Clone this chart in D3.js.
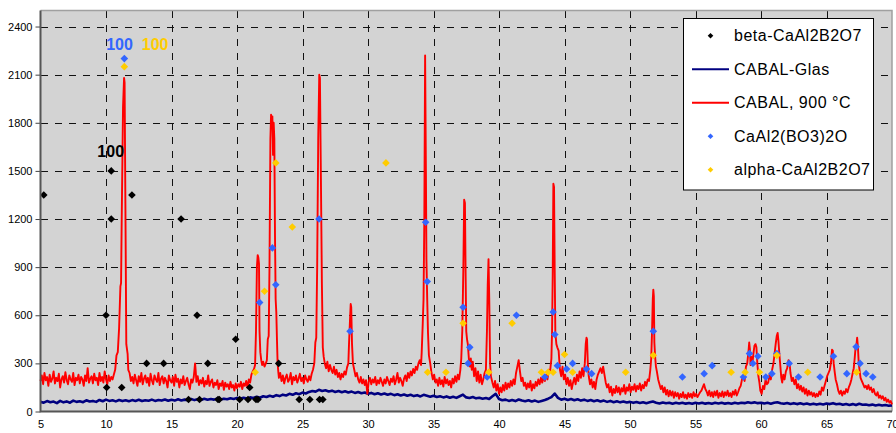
<!DOCTYPE html>
<html><head><meta charset="utf-8">
<script src="https://cdn.jsdelivr.net/npm/d3@7"></script>
<style>body{margin:0;background:#fff}svg{display:block;font-family:"Liberation Sans",Arial,sans-serif}</style>
</head><body><svg id="c" width="896" height="433"></svg>
<script>
const xTicks=[5,10,15,20,25,30,35,40,45,50,55,60,65,70];
const yTicks=[0,300,600,900,1200,1500,1800,2100,2400];

const seriesNames=["beta-CaAl2B2O7","CABAL-Glas","CABAL, 900 °C","CaAl2(BO3)2O","alpha-CaAl2B2O7"];

const betaPhase=[[5.25,1350],[10.0,600],[10.05,150],[10.4,1200],[10.4,1500],[11.2,150],[11.98,1350],[13.1,300],[14.4,300],[15.73,1200],[16.3,75],[16.95,600],[17.14,75],[17.77,300],[18.55,75],[18.65,75],[19.9,450],[20.2,75],[20.84,75],[20.97,150],[21.45,75],[21.6,75],[23.18,300],[24.75,75],[25.56,75],[26.3,75],[26.55,75]];

const caAlBoratePhase=[[11.4,2200],[21.73,680],[22.7,1020],[22.96,790],[26.26,1200],[28.63,500],[34.4,1180],[34.52,810],[37.26,650],[37.64,300],[37.77,400],[39.1,215],[41.33,600],[43.49,215],[44.13,620],[44.26,480],[44.46,286],[45.16,265],[45.62,300],[46.68,265],[47.07,236],[51.78,500],[54.0,215],[55.66,236],[56.27,286],[58.66,215],[59.12,361],[59.38,300],[59.76,344],[60.37,215],[60.83,236],[61.21,361],[62.15,300],[62.86,215],[64.51,215],[65.53,344],[66.55,236],[67.26,403],[67.56,300],[68.02,236],[68.53,215]];

const alphaPhase=[[11.4,2150],[21.39,245],[22.1,750],[22.96,1550],[24.22,1150],[31.37,1550],[34.55,245],[35.95,245],[37.26,550],[39.22,245],[41.0,550],[43.24,245],[43.75,245],[44.13,245],[45.0,355],[45.62,245],[49.67,245],[51.78,350],[57.72,245],[58.79,245],[59.88,245],[61.21,350],[63.57,245],[67.3,245]];

const peakLabels=[{text:"100",at:[11.03,2255],color:"#3366FF"},{text:"100",at:[13.75,2255],color:"#FFCC00"},{text:"100",at:[10.36,1585],color:"#000000"}];

const cabalGlas=[[5.0,60],[5.25,55],[5.5,65],[5.75,58],[6.0,62],[6.25,52],[6.5,66],[6.75,57],[7.0,63],[7.25,55],[7.5,68],[7.75,60],[8.0,64],[8.25,58],[8.5,70],[8.75,62],[9.0,66],[9.25,60],[9.5,72],[9.75,64],[10.0,74],[10.25,66],[10.5,70],[10.75,63],[11.0,72],[11.25,65],[11.5,70],[11.75,64],[12.0,71],[12.25,66],[12.5,73],[12.75,65],[13.0,70],[13.25,67],[13.5,74],[13.75,66],[14.0,72],[14.25,68],[14.5,75],[14.75,67],[15.0,73],[15.25,68],[15.5,76],[15.75,69],[16.0,74],[16.25,70],[16.5,78],[16.75,71],[17.0,76],[17.25,72],[17.5,79],[17.75,73],[18.0,78],[18.25,74],[18.5,81],[18.75,75],[19.0,80],[19.25,76],[19.5,83],[19.75,78],[20.0,85],[20.25,79],[20.5,86],[20.75,81],[21.0,88],[21.25,84],[21.5,92],[21.75,86],[22.0,95],[22.25,90],[22.5,98],[22.75,92],[23.0,102],[23.25,96],[23.5,105],[23.75,100],[24.0,110],[24.25,104],[24.5,114],[24.75,108],[25.0,118],[25.25,112],[25.5,122],[25.75,128],[26.0,124],[26.25,135],[26.5,128],[26.75,132],[27.0,125],[27.25,130],[27.5,122],[27.75,128],[28.0,120],[28.25,126],[28.5,118],[28.75,124],[29.0,116],[29.25,122],[29.5,114],[29.75,118],[30.0,110],[30.25,116],[30.5,108],[30.75,114],[31.0,106],[31.25,112],[31.5,104],[31.75,110],[32.0,102],[32.25,108],[32.5,100],[32.75,106],[33.0,98],[33.25,104],[33.5,96],[33.75,102],[34.0,94],[34.25,104],[34.5,98],[34.75,92],[35.0,98],[35.25,90],[35.5,95],[35.75,88],[36.0,94],[36.25,86],[36.5,92],[36.75,85],[37.0,95],[37.25,105],[37.5,88],[37.75,84],[38.0,90],[38.25,82],[38.5,86],[38.75,80],[39.0,84],[39.25,78],[39.5,95],[39.75,110],[40.0,78],[40.25,70],[40.5,74],[40.75,66],[41.0,72],[41.25,65],[41.5,75],[41.75,68],[42.0,64],[42.25,70],[42.5,62],[42.75,68],[43.0,60],[43.25,66],[43.5,72],[43.75,80],[44.0,90],[44.25,112],[44.5,85],[44.75,74],[45.0,80],[45.25,72],[45.5,78],[45.75,70],[46.0,76],[46.25,68],[46.5,74],[46.75,66],[47.0,72],[47.25,64],[47.5,70],[47.75,62],[48.0,68],[48.25,60],[48.5,66],[48.75,58],[49.0,64],[49.25,57],[49.5,62],[49.75,56],[50.0,60],[50.25,54],[50.5,59],[50.75,53],[51.0,58],[51.25,52],[51.5,57],[51.75,62],[52.0,55],[52.25,50],[52.5,56],[52.75,51],[53.0,55],[53.25,49],[53.5,54],[53.75,50],[54.0,55],[54.25,49],[54.5,53],[54.75,48],[55.0,54],[55.25,50],[55.5,55],[55.75,49],[56.0,53],[56.25,48],[56.5,54],[56.75,50],[57.0,55],[57.25,49],[57.5,53],[57.75,48],[58.0,54],[58.25,50],[58.5,55],[58.75,52],[59.0,58],[59.25,53],[59.5,57],[59.75,52],[60.0,55],[60.25,50],[60.5,54],[60.75,49],[61.0,55],[61.25,58],[61.5,52],[61.75,48],[62.0,53],[62.25,47],[62.5,52],[62.75,46],[63.0,51],[63.25,45],[63.5,50],[63.75,44],[64.0,49],[64.25,43],[64.5,48],[64.75,44],[65.0,50],[65.25,46],[65.5,52],[65.75,45],[66.0,48],[66.25,42],[66.5,47],[66.75,41],[67.0,46],[67.25,40],[67.5,48],[67.75,42],[68.0,44],[68.25,39],[68.5,43],[68.75,38],[69.0,42],[69.25,37],[69.5,40],[69.75,36],[70.0,38]];

const cabal900=[[5.0,190],[5.1,225],[5.2,170],[5.3,240],[5.4,195],[5.5,215],[5.6,160],[5.7,230],[5.8,185],[5.9,205],[6.0,250],[6.1,175],[6.2,210],[6.3,190],[6.4,235],[6.5,150],[6.6,200],[6.7,220],[6.8,180],[6.9,245],[7.0,195],[7.1,170],[7.2,225],[7.3,200],[7.4,185],[7.5,240],[7.6,165],[7.7,210],[7.8,195],[7.9,230],[8.0,175],[8.1,215],[8.2,200],[8.3,160],[8.4,225],[8.5,190],[8.6,270],[8.7,180],[8.8,205],[8.9,220],[9.0,175],[9.1,235],[9.2,195],[9.3,210],[9.4,165],[9.5,240],[9.6,190],[9.7,215],[9.8,180],[9.9,250],[10.0,200],[10.1,170],[10.2,225],[10.3,190],[10.4,215],[10.5,200],[10.6,230],
[10.7,260],[10.8,350],[10.9,370],[11.0,520],[11.1,780],[11.15,800],[11.2,1200],[11.3,1900],[11.38,2080],[11.42,2050],[11.48,1300],[11.55,420],[11.65,360],[11.7,260],[11.8,240],
[11.9,190],[12.0,215],[12.1,175],[12.2,230],[12.3,195],[12.4,160],[12.5,220],[12.6,185],[12.7,240],[12.8,170],[12.9,205],[13.0,225],[13.1,180],[13.2,210],[13.3,160],[13.4,235],[13.5,195],[13.6,170],[13.7,225],[13.8,200],[13.9,185],[14.0,240],[14.1,165],[14.2,205],[14.3,220],[14.4,175],[14.5,210],[14.6,190],[14.7,150],[14.8,225],[14.9,195],[15.0,180],[15.1,215],[15.2,160],[15.3,230],[15.4,185],[15.5,205],[15.6,150],[15.7,200],[15.8,175],[15.9,220],[16.0,165],[16.1,190],[16.2,210],[16.3,170],[16.4,140],[16.5,200],[16.6,180],[16.7,215],[16.8,300],[16.85,250],[16.9,185],[17.0,220],[17.1,165],[17.2,195],[17.3,175],[17.4,210],[17.5,155],[17.6,190],[17.7,170],[17.8,225],[17.9,160],[18.0,185],[18.1,200],[18.2,150],[18.3,180],[18.4,165],[18.5,195],[18.6,140],[18.7,175],[18.8,160],[18.9,190],[19.0,135],[19.1,180],[19.2,155],[19.3,170],[19.4,140],[19.5,185],[19.6,150],[19.7,165],[19.8,130],[19.9,175],[20.0,145],[20.1,170],[20.2,155],[20.3,185],[20.4,140],[20.5,175],[20.6,160],[20.7,190],[20.8,150],[20.9,200],[21.0,180],[21.1,230],[21.2,250],[21.3,265],
[21.38,290],[21.45,500],[21.52,900],[21.58,975],[21.63,960],[21.68,920],[21.72,500],[21.78,370],[21.85,320],[21.92,290],[22.0,310],[22.1,280],[22.2,300],[22.28,320],[22.35,450],[22.42,470],[22.48,900],[22.55,1700],[22.6,1850],[22.65,1780],[22.7,1840],[22.75,1600],[22.8,1800],[22.85,1700],[22.9,1100],[22.95,700],[23.0,620],[23.05,450],[23.1,300],[23.15,250],[23.2,210],
[23.3,240],[23.4,190],[23.5,225],[23.6,175],[23.7,210],[23.8,230],[23.9,185],[24.0,200],[24.1,240],[24.2,170],[24.3,215],[24.4,195],[24.5,225],[24.6,180],[24.7,205],[24.8,235],[24.9,190],[25.0,210],[25.1,175],[25.2,225],[25.3,200],[25.4,185],[25.5,220],[25.6,195],[25.7,235],[25.8,260],
[25.9,300],[25.98,430],[26.05,460],[26.12,900],[26.2,1700],[26.28,2100],[26.33,2080],[26.4,1500],[26.48,800],[26.55,400],[26.62,340],[26.7,300],[26.8,270],[26.9,310],[27.0,250],[27.1,290],[27.2,260],[27.3,240],[27.4,280],[27.5,230],[27.6,260],[27.7,215],[27.8,240],[27.9,200],[28.0,235],[28.1,215],[28.2,250],[28.3,230],[28.4,275],[28.5,300],[28.55,420],[28.62,560],[28.68,670],[28.72,650],[28.78,420],[28.85,300],[28.95,260],[29.05,220],[29.15,240],[29.25,200],[29.35,180],[29.45,215],[29.55,175],[29.65,200],[29.75,165],[29.85,195],[29.95,110],[30.05,185],[30.15,210],[30.25,170],[30.35,200],[30.45,180],[30.55,215],[30.65,165],[30.75,195],[30.85,175],[30.95,210],[31.05,185],[31.15,160],[31.25,200],[31.35,175],[31.45,215],[31.55,190],[31.65,165],[31.75,205],[31.85,185],[31.95,220],[32.05,170],[32.15,200],[32.25,240],[32.35,180],[32.45,210],[32.55,190],[32.65,160],[32.75,205],[32.85,225],[32.95,190],[33.05,240],[33.15,210],[33.25,250],[33.35,225],[33.45,265],[33.55,240],[33.65,280],[33.75,260],[33.85,300],[33.95,320],[34.05,290],[34.1,370],[34.18,550],[34.24,700],[34.3,1200],[34.36,2220],[34.42,1500],[34.46,950],[34.52,700],[34.58,490],[34.65,350],[34.75,300],[34.85,240],[34.95,200],[35.05,230],[35.15,180],[35.25,200],[35.35,160],[35.45,210],[35.55,170],[35.65,195],[35.75,155],[35.85,215],[35.95,175],[36.05,200],[36.15,165],[36.25,190],[36.35,150],[36.45,205],[36.55,175],[36.65,220],[36.75,185],[36.85,230],[36.95,200],[37.05,260],[37.12,330],[37.2,510],[37.28,900],[37.34,1320],[37.4,1300],[37.45,870],[37.5,500],[37.56,450],[37.62,420],[37.7,330],[37.78,280],[37.85,330],[37.92,260],[38.0,310],[38.1,220],[38.2,270],[38.3,190],[38.4,250],[38.5,180],[38.6,230],[38.7,170],[38.8,200],[38.9,240],[39.0,260],[39.08,500],[39.14,790],[39.2,950],[39.26,680],[39.32,300],[39.38,220],[39.5,180],[39.6,150],[39.7,190],[39.8,130],[39.9,170],[40.0,110],[40.1,150],[40.2,120],[40.3,165],[40.4,130],[40.5,180],[40.6,140],[40.7,175],[40.8,150],[40.9,190],[41.0,160],[41.1,200],[41.2,170],[41.3,240],[41.4,280],[41.5,320],[41.6,250],[41.7,190],[41.8,210],[41.9,160],[42.0,180],[42.1,140],[42.2,175],[42.3,150],[42.4,190],[42.5,130],[42.6,170],[42.7,145],[42.8,185],[42.9,160],[43.0,200],[43.1,170],[43.2,210],[43.3,180],[43.4,220],[43.5,190],[43.6,230],[43.7,200],[43.8,260],[43.9,250],[44.0,330],[44.05,500],[44.1,850],[44.15,1420],[44.2,1400],[44.25,900],[44.3,490],[44.38,420],[44.45,400],[44.55,380],[44.65,260],[44.75,220],[44.85,280],[44.95,200],[45.05,230],[45.15,170],[45.25,210],[45.35,160],[45.45,195],[45.55,140],[45.65,180],[45.75,210],[45.85,170],[45.95,230],[46.05,190],[46.15,250],[46.25,210],[46.35,270],[46.45,220],[46.55,300],[46.62,420],[46.68,460],[46.72,450],[46.78,300],[46.85,220],[46.95,170],[47.05,200],[47.15,150],[47.25,185],[47.35,140],[47.45,200],[47.55,230],[47.65,250],[47.75,270],[47.85,240],[47.95,280],[48.05,230],[48.15,180],[48.25,150],[48.35,170],[48.45,120],[48.55,155],[48.65,100],[48.75,140],[48.85,115],[48.95,160],[49.05,120],[49.15,150],[49.25,105],[49.35,145],[49.45,125],[49.55,165],[49.65,110],[49.75,150],[49.85,130],[49.95,170],[50.05,120],[50.15,155],[50.25,135],[50.35,170],[50.45,125],[50.55,160],[50.65,140],[50.75,175],[50.85,130],[50.95,165],[51.05,145],[51.15,185],[51.25,160],[51.35,200],[51.45,190],[51.55,260],[51.62,330],[51.68,490],[51.74,700],[51.78,760],[51.82,720],[51.86,430],[51.92,340],[51.98,280],[52.05,250],[52.15,200],[52.25,170],[52.35,140],[52.45,160],[52.55,120],[52.65,150],[52.75,105],[52.85,135],[52.95,95],[53.05,130],[53.15,100],[53.25,125],[53.35,85],[53.45,120],[53.55,95],[53.65,115],[53.75,80],[53.85,110],[53.95,90],[54.05,120],[54.15,85],[54.25,105],[54.35,80],[54.45,115],[54.55,90],[54.65,110],[54.75,85],[54.85,120],[54.95,95],[55.05,110],[55.15,90],[55.25,105],[55.35,120],[55.45,130],[55.55,150],[55.65,170],[55.75,140],[55.85,125],[55.95,100],[56.05,130],[56.15,95],[56.25,120],[56.35,90],[56.45,125],[56.55,100],[56.65,130],[56.75,85],[56.85,115],[56.95,95],[57.05,125],[57.15,90],[57.25,120],[57.35,100],[57.45,130],[57.55,95],[57.65,115],[57.75,90],[57.85,125],[57.95,105],[58.05,135],[58.15,100],[58.25,120],[58.35,145],[58.45,160],[58.55,200],[58.65,220],[58.75,190],[58.85,280],[58.95,300],[59.05,380],[59.1,430],[59.15,390],[59.2,290],[59.28,340],[59.35,300],[59.42,360],[59.5,410],[59.58,420],[59.65,400],[59.72,300],[59.8,220],[59.88,180],[59.95,130],[60.05,110],[60.15,160],[60.25,140],[60.35,200],[60.45,170],[60.55,180],[60.65,230],[60.75,200],[60.85,260],[60.95,300],[61.05,370],[61.12,420],[61.2,470],[61.27,490],[61.33,440],[61.4,360],[61.48,280],[61.55,210],[61.62,180],[61.7,230],[61.8,200],[61.9,250],[62.0,270],[62.1,320],[62.17,310],[62.25,240],[62.35,190],[62.45,210],[62.55,170],[62.65,200],[62.75,145],[62.85,170],[62.95,135],[63.05,160],[63.15,125],[63.25,150],[63.35,110],[63.45,140],[63.55,100],[63.65,130],[63.75,105],[63.85,120],[63.95,95],[64.05,115],[64.15,90],[64.25,110],[64.35,95],[64.45,125],[64.55,105],[64.65,150],[64.75,130],[64.85,160],[64.95,190],[65.05,220],[65.15,240],[65.25,260],[65.35,310],[65.42,385],[65.48,380],[65.55,300],[65.62,250],[65.7,200],[65.8,170],[65.9,130],[66.0,110],[66.1,130],[66.2,100],[66.3,125],[66.4,110],[66.5,140],[66.6,120],[66.7,150],[66.8,170],[66.9,200],[67.0,240],[67.08,270],[67.15,330],[67.22,400],[67.28,410],[67.34,460],[67.4,400],[67.46,300],[67.52,260],[67.6,210],[67.7,190],[67.8,170],[67.9,150],[68.0,160],[68.1,140],[68.2,165],[68.3,135],[68.4,150],[68.5,120],[68.6,140],[68.7,110],[68.8,100],[68.9,120],[69.0,85],[69.1,100],[69.2,80],[69.3,95],[69.4,70],[69.5,85],[69.6,60],[69.7,75],[69.8,55],[69.9,65],[70.0,45]];

const colors={beta:"#000000",glas:"#000080",red:"#FF0000",blue:"#3366FF",yellow:"#FFCC00"};

const svg=d3.select("#c");
const x=d3.scaleLinear().domain([5,70]).range([40.5,892]);
const y=d3.scaleLinear().domain([0,2500]).range([411.5,10.5]);

svg.append("rect").attr("width",896).attr("height",433).attr("fill","#fff");
svg.append("rect").attr("x",x(5)).attr("y",y(2500)).attr("width",x(70)-x(5)).attr("height",y(0)-y(2500)).attr("fill","#D3D3D3");

const grid=svg.append("g").attr("stroke","#111").attr("stroke-width",1).attr("stroke-dasharray","7,7").attr("shape-rendering","crispEdges");
grid.selectAll("line.h").data(yTicks.filter(v=>v>0)).join("line").attr("class","h")
  .attr("x1",x(5)).attr("x2",x(70)).attr("y1",d=>Math.round(y(d))+0.5).attr("y2",d=>Math.round(y(d))+0.5);
grid.selectAll("line.v").data(xTicks.filter(v=>v>5&&v<70)).join("line").attr("class","v")
  .attr("y1",y(2500)).attr("y2",y(0)).attr("x1",d=>Math.round(x(d))+0.5).attr("x2",d=>Math.round(x(d))+0.5);

svg.append("path").attr("d",`M${x(5)},${y(2500)}H${x(70)}V${y(0)}`).attr("fill","none").attr("stroke","#A0A0A0").attr("stroke-width",1.5);

const line=d3.line().x(d=>x(d[0])).y(d=>y(d[1]));
svg.append("path").datum(cabalGlas).attr("d",line).attr("fill","none").attr("stroke",colors.glas).attr("stroke-width",2.6).attr("stroke-linejoin","round");
svg.append("path").datum(cabal900).attr("d",line).attr("fill","none").attr("stroke",colors.red).attr("stroke-width",1.9).attr("stroke-linejoin","round");

const diamond=r=>`M0,${-r}L${r},0L0,${r}L${-r},0Z`;
function markers(data,color){
  svg.append("g").selectAll("path").data(data).join("path")
    .attr("transform",d=>`translate(${x(d[0])},${y(d[1])})`).attr("d",diamond(3.8)).attr("fill",color);
}
markers(betaPhase,colors.beta);
markers(caAlBoratePhase,colors.blue);
markers(alphaPhase,colors.yellow);

const yAxis=svg.append("g").attr("transform",`translate(${x(5)},0)`).call(d3.axisLeft(y).tickValues(yTicks).tickSize(5).tickPadding(3).tickFormat(d3.format("d")));
yAxis.select(".domain").remove();
yAxis.selectAll("line").attr("stroke","#444");
yAxis.selectAll("text").attr("font-size",11).attr("fill","#000").attr("font-family","'Liberation Sans',Arial,sans-serif");
const xAxis=svg.append("g").attr("transform",`translate(0,${y(0)})`).call(d3.axisBottom(x).tickValues(xTicks).tickSize(0).tickPadding(9).tickFormat(d3.format("d")));
xAxis.select(".domain").remove();
xAxis.selectAll("text").attr("font-size",11).attr("fill","#000").attr("font-family","'Liberation Sans',Arial,sans-serif");
svg.append("path").attr("d",`M${x(5)},${y(2500)}V${y(0)}H${x(70)}`).attr("fill","none").attr("stroke","#555").attr("stroke-width",2);

svg.append("g").selectAll("text").data(peakLabels).join("text")
  .attr("x",d=>x(d.at[0])).attr("y",d=>y(d.at[1])).attr("text-anchor","middle")
  .attr("font-size",16).attr("font-weight","bold").attr("fill",d=>d.color).text(d=>d.text);

const lg=svg.append("g");
lg.append("rect").attr("x",683.5).attr("y",18.5).attr("width",190).attr("height",171.5).attr("fill","#fff").attr("stroke","#000").attr("stroke-width",1);
const legendItems=[{name:seriesNames[0],type:"m",color:colors.beta},{name:seriesNames[1],type:"l",color:colors.glas},{name:seriesNames[2],type:"l",color:colors.red},{name:seriesNames[3],type:"m",color:colors.blue},{name:seriesNames[4],type:"m",color:colors.yellow}];
const li=lg.selectAll("g").data(legendItems).join("g").attr("transform",(d,i)=>`translate(0,${35.7+i*33.5})`);
li.filter(d=>d.type==="l").append("line").attr("x1",692).attr("x2",729).attr("y1",0).attr("y2",0).attr("stroke",d=>d.color).attr("stroke-width",2);
li.filter(d=>d.type==="m").append("path").attr("transform","translate(710.5,0)").attr("d",diamond(2.8)).attr("fill",d=>d.color);
li.append("text").attr("x",734).attr("y",0).attr("dy","0.36em").attr("font-size",16).attr("letter-spacing","0.5px").attr("fill","#000").text(d=>d.name);
</script></body></html>
